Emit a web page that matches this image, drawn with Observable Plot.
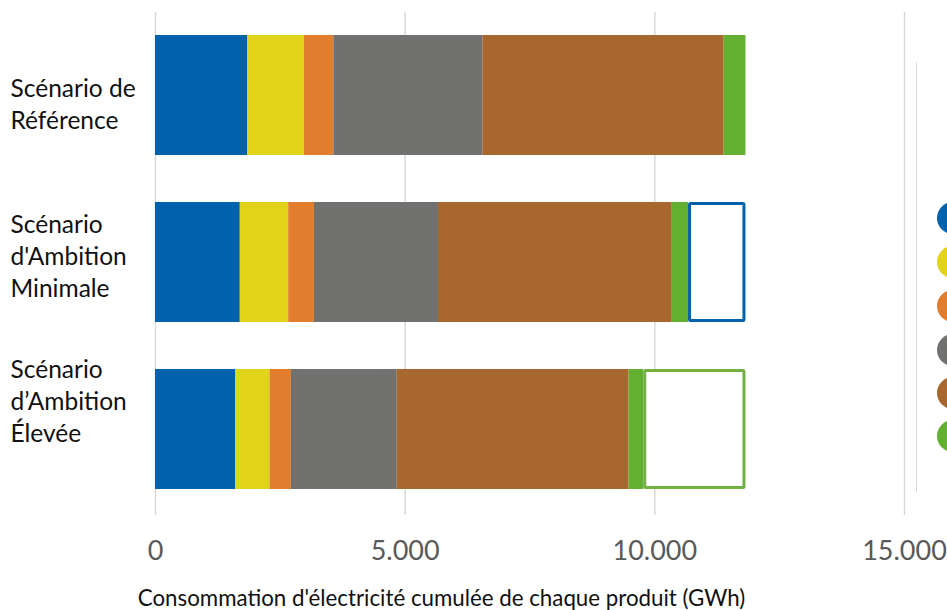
<!DOCTYPE html>
<html>
<head>
<meta charset="utf-8">
<script src="https://cdn.jsdelivr.net/npm/d3@7"></script>
<script src="https://cdn.jsdelivr.net/npm/@observablehq/plot@0.6"></script>
<style>
  html, body { margin: 0; padding: 0; background: #fff; overflow: hidden; }
  #wrap { position: relative; width: 947px; height: 610px; font-family: Lato, "Noto Sans", sans-serif; }
  #legend { position: absolute; left: 916px; top: 62px; height: 430px; border-left: 1.5px solid #d9d9d9; }
  .dot { position: absolute; width: 32px; height: 32px; border-radius: 50%; }
</style>
</head>
<body>
<div id="wrap"><div id="chart"></div><div id="legend"></div></div>
<script>
// Scenarios (y categories)
const scenarios = ["Scénario de\nRéférence", "Scénario\nd'Ambition\nMinimale", "Scénario\nd’Ambition\nÉlevée"];
// Product groups (legend is cut off in the reference)
const products = ["Éclairage", "Froid", "Lavage", "Électronique", "Chauffage", "Autres"];
const colors = ["#0062ad", "#e1d21a", "#e27d2e", "#71716f", "#a8672e", "#63b030"];
// Cumulated consumption per product, GWh, per scenario
const vEclairage    = [1849, 1698, 1603];
const vFroid        = [1135,  969,  691];
const vLavage       = [ 587,  516,  428];
const vElectronique = [2985, 2484, 2119];
const vChauffage    = [4833, 4682, 4643];
const vAutres       = [ 436,  326,  294];
const savingColors  = [null, "#0062ad", "#72b043"];
const xTicks = [0, 5000, 10000, 15000];
const axisTitle = "Consommation d'électricité cumulée de chaque produit (GWh)";

const series = [vEclairage, vFroid, vLavage, vElectronique, vChauffage, vAutres];
const rows = [];
scenarios.forEach((s, i) => products.forEach((p, j) => rows.push({scenario: s, product: p, value: series[j][i]})));
const totals = scenarios.map((s, i) => d3.sum(series, v => v[i]));
const savings = scenarios.map((s, i) => ({scenario: s, x1: totals[i], x2: totals[0], color: savingColors[i]})).filter(d => d.color);

const fmt = d3.formatLocale({decimal: ",", thousands: ".", grouping: [3], currency: ["", ""]}).format(",.0f");
const labelDy = [7, -8, -29.5];

const chart = Plot.plot({
  width: 947,
  height: 610,
  marginLeft: 155,
  marginRight: 43,
  marginTop: 12,
  marginBottom: 97,
  style: {fontFamily: "Lato, 'Noto Sans', sans-serif", background: "#fff"},
  x: {domain: [0, 15000]},
  y: {domain: scenarios, paddingInner: 0.28, paddingOuter: 0.14, axis: null},
  color: {domain: products, range: colors},
  marks: [
    Plot.ruleX(xTicks, {stroke: "#d9d9d9", strokeWidth: 1.5, insetBottom: -2}),
    Plot.barX(rows, Plot.stackX({x: "value", y: "scenario", fill: "product", order: products})),
    Plot.rectX(savings, {x1: "x1", x2: "x2", y: "scenario", fill: "#fff", stroke: "color", strokeWidth: 3, inset: 1.5, rx: 1}),
    Plot.axisX({ticks: xTicks, tickFormat: fmt, tickSize: 0, tickPadding: 27, fontSize: 27, fill: "#595959", label: null}),
    ...scenarios.map((s, i) => Plot.text([s], {
      y: d => d, text: d => d, frameAnchor: "left", textAnchor: "start", dx: -145, dy: labelDy[i],
      fontSize: 24.5, lineHeight: 1.31, fill: "#111"
    })),
    Plot.text([axisTitle], {frameAnchor: "bottom-left", dx: 286, dy: 85, textAnchor: "middle", lineAnchor: "middle", fontSize: 22.3, fill: "#111"})
  ]
});
document.getElementById("chart").appendChild(chart);

const legend = document.getElementById("legend");
const dotY = [217.5, 262, 306, 350, 393, 436];
products.forEach((p, i) => {
  const d = document.createElement("div");
  d.className = "dot";
  d.title = p;
  d.style.background = colors[i];
  d.style.left = (936 - 916) + "px";
  d.style.top = (dotY[i] - 16 - 62) + "px";
  legend.appendChild(d);
});
</script>
</body>
</html>
